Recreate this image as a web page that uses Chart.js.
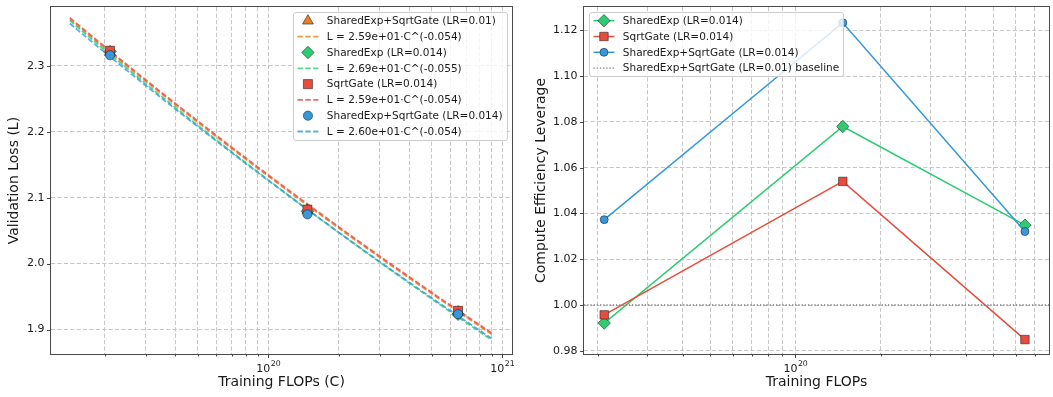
<!DOCTYPE html>
<html lang="en">
<head>
<meta charset="utf-8">
<title>Compute scaling of SharedExp / SqrtGate variants</title>
<script src="https://cdn.jsdelivr.net/npm/chart.js@4.4.1/dist/chart.umd.min.js"></script>
<style>
  html, body { margin: 0; padding: 0; background: #ffffff; width: 1053px; height: 397px; overflow: hidden; }
  canvas { position: absolute; top: 0; }
  #lossChart { left: 0; }
  #leverageChart { left: 526px; }
</style>
</head>
<body>
<canvas id="lossChart" width="526" height="397" style="width:526px;height:397px"></canvas>
<canvas id="leverageChart" width="530" height="397" style="width:530px;height:397px"></canvas>
<script>
// ---------- data ----------
const trainingFlops = [2.11e19, 1.47e20, 6.47e20];

const runLabels = [
  'SharedExp+SqrtGate (LR=0.01)',
  'SharedExp (LR=0.014)',
  'SqrtGate (LR=0.014)',
  'SharedExp+SqrtGate (LR=0.014)'
];

// validation loss per run at each compute budget
const lossSharedSqrtLr01 = [2.3205, 2.0810, 1.9268];
const lossSharedExp = [2.3215, 2.0794, 1.9232];
const lossSqrtGate = [2.3228, 2.0819, 1.9284];
const lossSharedSqrtLr014 = [2.3160, 2.0747, 1.9235];

// power-law fits L = a * C^b, one per run (same order as runLabels)
const fitCoefficient = [25.9, 26.9, 25.9, 26.0];
const fitExponent = [-0.05422, -0.0551, -0.0542, -0.05437];
const fitFlopsRange = [1.42e19, 9.0e20];

// compute efficiency leverage relative to the LR=0.01 baseline
const leverageLabels = [
  'SharedExp (LR=0.014)',
  'SqrtGate (LR=0.014)',
  'SharedExp+SqrtGate (LR=0.014)',
  'SharedExp+SqrtGate (LR=0.01) baseline'
];
const leverageSharedExp = [0.9921, 1.078, 1.0349];
const leverageSqrtGate = [0.9957, 1.054, 0.9849];
const leverageSharedSqrt = [1.0373, 1.1233, 1.0321];
const leverageBaseline = 1.0;

// ticks and axis limits
const lossTicks = [1.9, 2.0, 2.1, 2.2, 2.3];
const leverageTicks = [0.98, 1.00, 1.02, 1.04, 1.06, 1.08, 1.10, 1.12];
const flopsTicks = [2e19, 3e19, 4e19, 5e19, 6e19, 7e19, 8e19, 9e19,
                    1e20, 2e20, 3e20, 4e20, 5e20, 6e20, 7e20, 8e20, 9e20, 1e21];
const lossFlopsLimits = [1.18e19, 1.10e21];
const leverageFlopsLimits = [1.79e19, 7.87e20];
const lossLimits = [1.863, 2.3888];
const leverageLimits = [0.9786, 1.1302];

// ---------- styling ----------
const runColors = ['#e67e22', '#2ecc71', '#e74c3c', '#3498db'];
const fitColors = ['rgba(230,126,34,0.8)', 'rgba(46,204,113,0.8)', 'rgba(231,76,60,0.8)', 'rgba(52,152,219,0.8)'];
const markerStyles = ['triangle', 'rectRot', 'rect', 'circle'];
const lossMarkerRadius = [6.3, 6.2, 6.4, 4.6];
const EDGE = 'rgba(30,30,30,0.7)';
const GRID = '#c6c6c6';
const TEXT = '#1a1a1a';
const FONT = '"DejaVu Sans", sans-serif';

Chart.defaults.font.family = FONT;
Chart.defaults.color = TEXT;

function isDecade(v) {
  const l = Math.log10(v);
  return Math.abs(l - Math.round(l)) < 1e-9;
}

function sci(v) {
  const e = Math.floor(Math.log10(v));
  const m = v / Math.pow(10, e);
  return m.toFixed(2) + 'e' + (e < 0 ? '-' : '+') + String(Math.abs(e)).padStart(2, '0');
}

function fitLabel(i) {
  return 'L = ' + sci(fitCoefficient[i]) + '\u00b7C^(' + fitExponent[i].toFixed(3) + ')';
}

function fitCurve(i) {
  const n = 60, pts = [];
  const l0 = Math.log10(fitFlopsRange[0]), l1 = Math.log10(fitFlopsRange[1]);
  for (let k = 0; k <= n; k++) {
    const c = Math.pow(10, l0 + (l1 - l0) * k / n);
    pts.push({ x: c, y: fitCoefficient[i] * Math.pow(c, fitExponent[i]) });
  }
  return pts;
}

function toPoints(values) {
  return trainingFlops.map((c, k) => ({ x: c, y: values[k] }));
}

function fixBox(size) {
  return function (scale) {
    if (scale.isHorizontal()) scale.height = size; else scale.width = size;
    scale.paddingLeft = scale.paddingRight = scale.paddingTop = scale.paddingBottom = 0;
  };
}

function flopsAxis(limits, titleText) {
  return {
    type: 'logarithmic',
    position: 'bottom',
    min: limits[0],
    max: limits[1],
    afterBuildTicks: s => {
      s.ticks = flopsTicks.filter(v => v >= limits[0] && v <= limits[1])
        .map(v => ({ value: v, major: isDecade(v) }));
    },
    afterFit: fixBox(43),
    ticks: { display: false },
    grid: { color: GRID, lineWidth: 1, drawTicks: false },
    border: { display: false, dash: [4.2, 2.2] },
    title: { display: true, text: titleText, color: TEXT, font: { size: 14, family: FONT }, padding: { top: 0, bottom: 5.9 } }
  };
}

function valueAxis(limits, tickValues, digits, width, titleText, titlePad) {
  return {
    type: 'linear',
    position: 'left',
    min: limits[0],
    max: limits[1],
    afterBuildTicks: s => { s.ticks = tickValues.map(v => ({ value: v })); },
    afterFit: fixBox(width),
    ticks: { autoSkip: false, padding: 6.5, color: TEXT, font: { size: 11, family: FONT }, callback: v => Number(v).toFixed(digits) },
    grid: { color: GRID, lineWidth: 1, drawTicks: false },
    border: { display: false, dash: [4.2, 2.2] },
    title: { display: true, text: titleText, color: TEXT, font: { size: 14, family: FONT }, padding: { top: titlePad, bottom: 0 } }
  };
}

// ---------- marker drawing shared by the inset legends ----------
function drawMarker(ctx, style, x, y, r, fill, stroke, lw) {
  ctx.save();
  ctx.setLineDash([]);
  ctx.beginPath();
  if (style === 'rect') {
    const s = Math.SQRT1_2 * r;
    ctx.rect(x - s, y - s, 2 * s, 2 * s);
  } else if (style === 'rectRot') {
    ctx.moveTo(x - r, y); ctx.lineTo(x, y - r); ctx.lineTo(x + r, y); ctx.lineTo(x, y + r);
    ctx.closePath();
  } else if (style === 'triangle') {
    let a = 0;
    ctx.moveTo(x + Math.sin(a) * r, y - Math.cos(a) * r);
    a += 2 * Math.PI / 3;
    ctx.lineTo(x + Math.sin(a) * r, y - Math.cos(a) * r);
    a += 2 * Math.PI / 3;
    ctx.lineTo(x + Math.sin(a) * r, y - Math.cos(a) * r);
    ctx.closePath();
  } else {
    ctx.arc(x, y, r, 0, Math.PI * 2);
  }
  ctx.fillStyle = fill; ctx.fill();
  if (lw > 0) { ctx.lineWidth = lw; ctx.strokeStyle = stroke; ctx.stroke(); }
  ctx.restore();
}

// ---------- plugins ----------
const axesFramePlugin = {
  id: 'axesFrame',
  afterDatasetsDraw(chart) {
    const ctx = chart.ctx, a = chart.chartArea;
    const xs = chart.scales.x, ys = chart.scales.y;
    const L = Math.round(a.left) - 0.5, T = Math.round(a.top) - 0.5;
    const R = Math.round(a.right) + 0.5, B = Math.round(a.bottom) + 0.5;
    ctx.save();
    ctx.setLineDash([]);
    ctx.strokeStyle = '#4a4a4a';
    ctx.lineWidth = 1;
    ctx.strokeRect(L, T, R - L, B - T);

    // tick marks
    ctx.strokeStyle = '#333333';
    ctx.lineWidth = 0.9;
    ctx.beginPath();
    xs.ticks.forEach(t => {
      const px = Math.round(xs.getPixelForValue(t.value)) + 0.5;
      const len = isDecade(t.value) ? 3.5 : 2;
      ctx.moveTo(px, B); ctx.lineTo(px, B + len);
    });
    ys.ticks.forEach(t => {
      const py = Math.round(ys.getPixelForValue(t.value)) + 0.5;
      ctx.moveTo(L, py); ctx.lineTo(L - 3.5, py);
    });
    ctx.stroke();

    // decade labels 10^n under the x axis
    ctx.fillStyle = TEXT;
    ctx.textBaseline = 'alphabetic';
    ctx.textAlign = 'left';
    xs.ticks.filter(t => isDecade(t.value)).forEach(t => {
      const px = xs.getPixelForValue(t.value);
      const base = '10', exp = String(Math.round(Math.log10(t.value)));
      ctx.font = '11px ' + FONT;
      const wb = ctx.measureText(base).width;
      ctx.font = '7.8px ' + FONT;
      const we = ctx.measureText(exp).width;
      const x0 = px - (wb + we) / 2;
      ctx.font = '11px ' + FONT;
      ctx.fillText(base, x0, a.bottom + 17.7);
      ctx.font = '7.8px ' + FONT;
      ctx.fillText(exp, x0 + wb + 0.4, a.bottom + 12);
    });
    ctx.restore();
  }
};

const insetLegendPlugin = {
  id: 'insetLegend',
  afterDraw(chart, args, opts) {
    const ctx = chart.ctx, a = chart.chartArea;
    const items = chart.data.datasets;
    const fs = 10.5;
    const pad = 0.4 * fs, handleLen = 2 * fs, gap = 0.8 * fs, rowH = 15.8, edge = 8.45;
    ctx.save();
    ctx.font = fs + 'px ' + FONT;
    const textW = Math.max(...items.map(d => ctx.measureText(d.label).width));
    const w = pad + handleLen + gap + textW + pad;
    const h = 2 * edge + (items.length - 1) * rowH;
    const x0 = opts.corner === 'right' ? a.right - 0.5 * fs - w : a.left + 0.5 * fs;
    const y0 = a.top + 0.5 * fs;

    ctx.beginPath();
    ctx.roundRect(Math.round(x0) + 0.5, Math.round(y0) + 0.5, Math.round(w), Math.round(h), 2.5);
    ctx.fillStyle = 'rgba(255,255,255,0.8)';
    ctx.fill();
    ctx.strokeStyle = '#cccccc';
    ctx.lineWidth = 1;
    ctx.stroke();

    items.forEach((d, i) => {
      const cy = y0 + edge + i * rowH;
      const hx = x0 + pad;
      if (d.showLine !== false) {
        ctx.save();
        ctx.beginPath();
        ctx.setLineDash(d.borderDash || []);
        ctx.strokeStyle = d.borderColor;
        ctx.lineWidth = d.borderWidth;
        ctx.moveTo(hx, cy); ctx.lineTo(hx + handleLen, cy);
        ctx.stroke();
        ctx.restore();
      }
      if (d.pointRadius > 0) {
        drawMarker(ctx, d.pointStyle, hx + handleLen / 2, cy, d.pointRadius, d.pointBackgroundColor, d.pointBorderColor, d.pointBorderWidth);
      }
      ctx.fillStyle = TEXT;
      ctx.textAlign = 'left';
      ctx.textBaseline = 'middle';
      ctx.font = fs + 'px ' + FONT;
      ctx.fillText(d.label, hx + handleLen + gap, cy + 0.5);
    });
    ctx.restore();
  }
};

// ---------- left: validation loss vs compute ----------
const lossSeries = [lossSharedSqrtLr01, lossSharedExp, lossSqrtGate, lossSharedSqrtLr014];
const lossDatasets = [];
lossSeries.forEach((vals, i) => {
  lossDatasets.push({
    label: runLabels[i],
    data: toPoints(vals),
    showLine: false,
    pointStyle: markerStyles[i],
    pointRadius: lossMarkerRadius[i],
    pointHoverRadius: lossMarkerRadius[i],
    pointBackgroundColor: runColors[i],
    pointBorderColor: EDGE,
    pointBorderWidth: 0.8,
    order: 4 - i
  });
  lossDatasets.push({
    label: fitLabel(i),
    data: fitCurve(i),
    showLine: true,
    borderColor: fitColors[i],
    borderWidth: 1.8,
    borderDash: [5.5, 2.4],
    pointRadius: 0,
    order: 10 - i
  });
});

new Chart(document.getElementById('lossChart'), {
  type: 'line',
  data: { datasets: lossDatasets },
  options: {
    responsive: false,
    animation: false,
    layout: { padding: { left: 0, top: 3, right: 14, bottom: 0 } },
    scales: {
      x: flopsAxis(lossFlopsLimits, 'Training FLOPs (C)'),
      y: valueAxis(lossLimits, lossTicks, 1, 51, 'Validation Loss (L)', 6.1)
    },
    plugins: {
      legend: { display: false },
      tooltip: { enabled: false },
      insetLegend: { corner: 'right' }
    }
  },
  plugins: [axesFramePlugin, insetLegendPlugin]
});

// ---------- right: compute efficiency leverage ----------
const leverageSeries = [leverageSharedExp, leverageSqrtGate, leverageSharedSqrt];
const leverageStyle = [
  { color: runColors[1], marker: 'rectRot', r: 6.2 },
  { color: runColors[2], marker: 'rect', r: 6.0 },
  { color: runColors[3], marker: 'circle', r: 4.0 }
];
const leverageDatasets = leverageSeries.map((vals, i) => ({
  label: leverageLabels[i],
  data: toPoints(vals),
  borderColor: leverageStyle[i].color,
  borderWidth: 1.5,
  pointStyle: leverageStyle[i].marker,
  pointRadius: leverageStyle[i].r,
  pointHoverRadius: leverageStyle[i].r,
  pointBackgroundColor: leverageStyle[i].color,
  pointBorderColor: EDGE,
  pointBorderWidth: 0.8,
  order: 4 - i
}));
leverageDatasets.push({
  label: leverageLabels[3],
  data: [{ x: leverageFlopsLimits[0], y: leverageBaseline }, { x: leverageFlopsLimits[1], y: leverageBaseline }],
  borderColor: '#7f7f7f',
  borderWidth: 1.3,
  borderDash: [1.3, 1.9],
  pointRadius: 0,
  order: 0
});

new Chart(document.getElementById('leverageChart'), {
  type: 'line',
  data: { datasets: leverageDatasets },
  options: {
    responsive: false,
    animation: false,
    layout: { padding: { left: 0, top: 3, right: 2, bottom: 0 } },
    scales: {
      x: flopsAxis(leverageFlopsLimits, 'Training FLOPs'),
      y: valueAxis(leverageLimits, leverageTicks, 2, 58, 'Compute Efficiency Leverage', 7.1)
    },
    plugins: {
      legend: { display: false },
      tooltip: { enabled: false },
      insetLegend: { corner: 'left' }
    }
  },
  plugins: [axesFramePlugin, insetLegendPlugin]
});
</script>
</body>
</html>
